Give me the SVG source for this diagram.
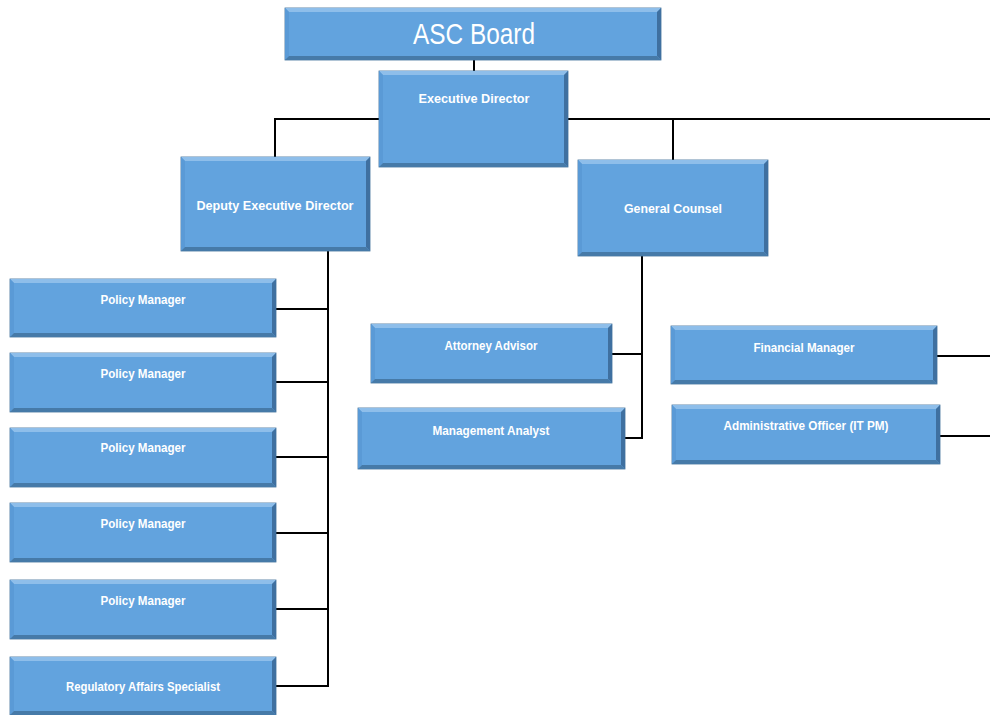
<svg xmlns="http://www.w3.org/2000/svg" width="990" height="715" viewBox="0 0 990 715">
<style>
.box{fill:#62A3DE;stroke:#3E6E98;stroke-width:0.8}
.tp{fill:#8EBEEA}
.rt{fill:#3F70A0}
.bt{fill:#467AA8}
.lf{fill:#5A9AD6}
.lbl{font-family:"Liberation Sans",Arial,sans-serif;font-weight:bold;font-size:13px;fill:#FFFFFF;text-anchor:middle}
.big{font-family:"Liberation Sans",Arial,sans-serif;font-size:29px;fill:#FFFFFF;text-anchor:middle}
.conn{fill:none;stroke:#000000;stroke-width:2}
</style>
<rect width="990" height="715" fill="#FFFFFF"/>
<g id="connectors">
<path class="conn" d="M474 60V71"/>
<path class="conn" d="M379 119H275V157"/>
<path class="conn" d="M568 119H990"/>
<path class="conn" d="M673 119V160"/>
<path class="conn" d="M328 251V686H276"/>
<path class="conn" d="M276 309H328M276 382H328M276 457H328M276 533H328M276 609H328"/>
<path class="conn" d="M642 256V438H625M612 354H642"/>
<path class="conn" d="M937 356H990M940 436H990"/>
</g>
<g id="asc-board">
<rect class="box" x="285" y="8" width="376" height="52"/>
<polygon class="tp" points="285,8 661,8 657,12 289,12"/>
<polygon class="lf" points="285,8 289,12 289,56 285,60"/>
<polygon class="rt" points="661,8 661,60 657,56 657,12"/>
<polygon class="bt" points="285,60 661,60 657,56 289,56"/>
<text class="big" x="474" y="44" textLength="122" lengthAdjust="spacingAndGlyphs">ASC Board</text>
</g>
<g id="executive-director">
<rect class="box" x="379" y="71" width="189" height="96"/>
<polygon class="tp" points="379,71 568,71 564,75 383,75"/>
<polygon class="lf" points="379,71 383,75 383,163 379,167"/>
<polygon class="rt" points="568,71 568,167 564,163 564,75"/>
<polygon class="bt" points="379,167 568,167 564,163 383,163"/>
<text class="lbl" x="474" y="103" textLength="111" lengthAdjust="spacingAndGlyphs">Executive Director</text>
</g>
<g id="deputy-executive-director">
<rect class="box" x="181" y="157" width="189" height="94"/>
<polygon class="tp" points="181,157 370,157 366,161 185,161"/>
<polygon class="lf" points="181,157 185,161 185,247 181,251"/>
<polygon class="rt" points="370,157 370,251 366,247 366,161"/>
<polygon class="bt" points="181,251 370,251 366,247 185,247"/>
<text class="lbl" x="275" y="210" textLength="157" lengthAdjust="spacingAndGlyphs">Deputy Executive Director</text>
</g>
<g id="general-counsel">
<rect class="box" x="578" y="160" width="190" height="96"/>
<polygon class="tp" points="578,160 768,160 764,164 582,164"/>
<polygon class="lf" points="578,160 582,164 582,252 578,256"/>
<polygon class="rt" points="768,160 768,256 764,252 764,164"/>
<polygon class="bt" points="578,256 768,256 764,252 582,252"/>
<text class="lbl" x="673" y="213" textLength="98" lengthAdjust="spacingAndGlyphs">General Counsel</text>
</g>
<g id="policy-manager-1">
<rect class="box" x="10" y="279" width="266" height="58"/>
<polygon class="tp" points="10,279 276,279 272,283 14,283"/>
<polygon class="lf" points="10,279 14,283 14,333 10,337"/>
<polygon class="rt" points="276,279 276,337 272,333 272,283"/>
<polygon class="bt" points="10,337 276,337 272,333 14,333"/>
<text class="lbl" x="143" y="304" textLength="85" lengthAdjust="spacingAndGlyphs">Policy Manager</text>
</g>
<g id="policy-manager-2">
<rect class="box" x="10" y="353" width="266" height="59"/>
<polygon class="tp" points="10,353 276,353 272,357 14,357"/>
<polygon class="lf" points="10,353 14,357 14,408 10,412"/>
<polygon class="rt" points="276,353 276,412 272,408 272,357"/>
<polygon class="bt" points="10,412 276,412 272,408 14,408"/>
<text class="lbl" x="143" y="378" textLength="85" lengthAdjust="spacingAndGlyphs">Policy Manager</text>
</g>
<g id="policy-manager-3">
<rect class="box" x="10" y="428" width="266" height="59"/>
<polygon class="tp" points="10,428 276,428 272,432 14,432"/>
<polygon class="lf" points="10,428 14,432 14,483 10,487"/>
<polygon class="rt" points="276,428 276,487 272,483 272,432"/>
<polygon class="bt" points="10,487 276,487 272,483 14,483"/>
<text class="lbl" x="143" y="452" textLength="85" lengthAdjust="spacingAndGlyphs">Policy Manager</text>
</g>
<g id="policy-manager-4">
<rect class="box" x="10" y="503" width="266" height="59"/>
<polygon class="tp" points="10,503 276,503 272,507 14,507"/>
<polygon class="lf" points="10,503 14,507 14,558 10,562"/>
<polygon class="rt" points="276,503 276,562 272,558 272,507"/>
<polygon class="bt" points="10,562 276,562 272,558 14,558"/>
<text class="lbl" x="143" y="528" textLength="85" lengthAdjust="spacingAndGlyphs">Policy Manager</text>
</g>
<g id="policy-manager-5">
<rect class="box" x="10" y="580" width="266" height="59"/>
<polygon class="tp" points="10,580 276,580 272,584 14,584"/>
<polygon class="lf" points="10,580 14,584 14,635 10,639"/>
<polygon class="rt" points="276,580 276,639 272,635 272,584"/>
<polygon class="bt" points="10,639 276,639 272,635 14,635"/>
<text class="lbl" x="143" y="605" textLength="85" lengthAdjust="spacingAndGlyphs">Policy Manager</text>
</g>
<g id="regulatory-affairs-specialist">
<rect class="box" x="10" y="657" width="266" height="58"/>
<polygon class="tp" points="10,657 276,657 272,661 14,661"/>
<polygon class="lf" points="10,657 14,661 14,711 10,715"/>
<polygon class="rt" points="276,657 276,715 272,711 272,661"/>
<polygon class="bt" points="10,715 276,715 272,711 14,711"/>
<text class="lbl" x="143" y="691" textLength="154" lengthAdjust="spacingAndGlyphs">Regulatory Affairs Specialist</text>
</g>
<g id="attorney-advisor">
<rect class="box" x="371" y="324" width="241" height="59"/>
<polygon class="tp" points="371,324 612,324 608,328 375,328"/>
<polygon class="lf" points="371,324 375,328 375,379 371,383"/>
<polygon class="rt" points="612,324 612,383 608,379 608,328"/>
<polygon class="bt" points="371,383 612,383 608,379 375,379"/>
<text class="lbl" x="491" y="350" textLength="93" lengthAdjust="spacingAndGlyphs">Attorney Advisor</text>
</g>
<g id="management-analyst">
<rect class="box" x="358" y="408" width="267" height="61"/>
<polygon class="tp" points="358,408 625,408 621,412 362,412"/>
<polygon class="lf" points="358,408 362,412 362,465 358,469"/>
<polygon class="rt" points="625,408 625,469 621,465 621,412"/>
<polygon class="bt" points="358,469 625,469 621,465 362,465"/>
<text class="lbl" x="491" y="435" textLength="117" lengthAdjust="spacingAndGlyphs">Management Analyst</text>
</g>
<g id="financial-manager">
<rect class="box" x="671" y="326" width="266" height="58"/>
<polygon class="tp" points="671,326 937,326 933,330 675,330"/>
<polygon class="lf" points="671,326 675,330 675,380 671,384"/>
<polygon class="rt" points="937,326 937,384 933,380 933,330"/>
<polygon class="bt" points="671,384 937,384 933,380 675,380"/>
<text class="lbl" x="804" y="352" textLength="101" lengthAdjust="spacingAndGlyphs">Financial Manager</text>
</g>
<g id="administrative-officer">
<rect class="box" x="672" y="405" width="268" height="59"/>
<polygon class="tp" points="672,405 940,405 936,409 676,409"/>
<polygon class="lf" points="672,405 676,409 676,460 672,464"/>
<polygon class="rt" points="940,405 940,464 936,460 936,409"/>
<polygon class="bt" points="672,464 940,464 936,460 676,460"/>
<text class="lbl" x="806" y="430" textLength="165" lengthAdjust="spacingAndGlyphs">Administrative Officer (IT PM)</text>
</g>
</svg>
